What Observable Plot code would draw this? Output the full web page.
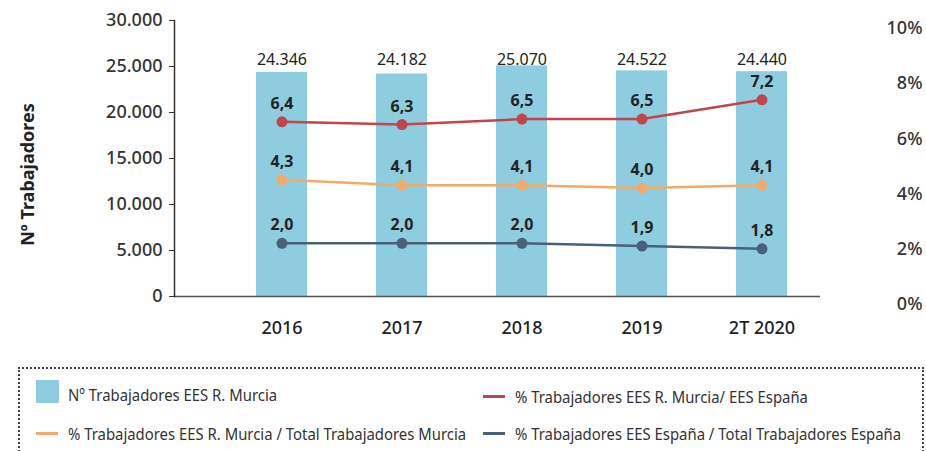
<!DOCTYPE html>
<html>
<head>
<meta charset="utf-8">
<script src="https://cdn.jsdelivr.net/npm/d3@7"></script>
<script src="https://cdn.jsdelivr.net/npm/@observablehq/plot@0.6"></script>
<style>
  html, body { margin: 0; padding: 0; background: #fff; }
  #wrap { position: relative; width: 926px; height: 451px; overflow: hidden; font-family: "Noto Sans", sans-serif; }
  #wrap svg { display: block; }
  .legend { position: absolute; left: 18px; top: 367px; width: 906px; height: 120px; border: 2px dotted #444; box-sizing: border-box; }
  .item { position: absolute; height: 22px; display: flex; align-items: center; }
  .item span.t { display: inline-block; font-family: "Noto Sans", sans-serif; font-size: 17px; color: #333; white-space: nowrap; transform: scaleX(0.875); transform-origin: left center; }
  .sw-sq { width: 23px; height: 23px; margin-right: 9px; flex: none; }
  .sw-ln { width: 22px; height: 3px; margin-right: 10px; flex: none; }
</style>
</head>
<body>
<div id="wrap"></div>
<script>
// ---- data ----
const categories = ["2016", "2017", "2018", "2019", "2T 2020"];
const trabajadores = [24346, 24182, 25070, 24522, 24440];
const pctMurciaEspana = [6.4, 6.3, 6.5, 6.5, 7.2];
const pctMurciaTotal = [4.3, 4.1, 4.1, 4.0, 4.1];
const pctEspanaTotal = [2.0, 2.0, 2.0, 1.9, 1.8];
const leftTicks = [0, 5000, 10000, 15000, 20000, 25000, 30000];
const rightTicks = [0, 2, 4, 6, 8, 10];
const seriesNames = [
  "Nº Trabajadores EES R. Murcia",
  "% Trabajadores EES R. Murcia/ EES España",
  "% Trabajadores EES R. Murcia / Total Trabajadores Murcia",
  "% Trabajadores EES España / Total Trabajadores España"
];
const colors = {bar: "#8ecde0", red: "#c0464c", orange: "#f0aa6b", navy: "#4a607a"};

// ---- derived tables ----
const PCT = 30000 / 10; // right axis 0–10% maps onto left 0–30.000
const es = d3.formatLocale({decimal: ",", thousands: ".", grouping: [3], currency: ["", "€"]});
const fmtInt = es.format(",");
const fmtPct = d => d.toFixed(1).replace(".", ",");

const bars = categories.map((c, i) => ({cat: c, value: trabajadores[i]}));
const lines = [
  {key: "red", values: pctMurciaEspana},
  {key: "orange", values: pctMurciaTotal},
  {key: "navy", values: pctEspanaTotal}
].map(s => ({key: s.key, rows: categories.map((c, i) => ({cat: c, v: s.values[i]}))}));

const lineMarks = lines.flatMap(s => [
  Plot.line(s.rows, {x: "cat", y: d => d.v * PCT, dy: 2, stroke: colors[s.key], strokeWidth: 2.5}),
  Plot.dot(s.rows, {x: "cat", y: d => d.v * PCT, dy: 2, r: 5.5, fill: colors[s.key], stroke: null}),
  Plot.text(s.rows, {x: "cat", y: d => d.v * PCT, text: d => fmtPct(d.v), dy: -16, fontSize: 16, fontWeight: "bold", fill: "#222"})
]);

const chart = Plot.plot({
  width: 926,
  height: 350,
  marginLeft: 174,
  marginRight: 106,
  marginTop: 20,
  marginBottom: 54,
  style: {fontFamily: "'Noto Sans', sans-serif", background: "#fff", color: "#333"},
  x: {type: "band", domain: categories, range: [221, 821], paddingInner: 0.575, paddingOuter: 0.2875},
  y: {domain: [0, 30000]},
  marks: [
    Plot.barY(bars, {x: "cat", y: "value", fill: colors.bar}),
    Plot.text(bars, {x: "cat", text: d => fmtInt(d.value), frameAnchor: "top", dy: 33, fontSize: 16, fill: "#222"}),
    Plot.ruleY([0], {stroke: "#555", strokeWidth: 1.5}),
    Plot.frame({anchor: "left", stroke: "#333", strokeWidth: 1.5}),
    Plot.axisY(leftTicks, {anchor: "left", tickSize: 5, tickPadding: 7, tickFormat: fmtInt, fontSize: 18, fontWeight: 500, fill: "#333", label: null}),
    Plot.text(rightTicks, {y: d => d * PCT, text: d => d + "%", frameAnchor: "right", textAnchor: "end", dx: 102, dy: 8, fontSize: 18, fontWeight: 500, fill: "#333"}),
    Plot.axisX({tickSize: 0, tickPadding: 25, fontSize: 18, fontWeight: 500, fill: "#222", label: null}),
    Plot.text(["Nº Trabajadores"], {frameAnchor: "left", textAnchor: "middle", rotate: -90, dx: -146, dy: 16, fontSize: 18, fontWeight: "bold", fill: "#222"}),
    ...lineMarks
  ]
});

const wrap = document.getElementById("wrap");
wrap.appendChild(chart);

// ---- legend ----
const legend = document.createElement("div");
legend.className = "legend";
const items = [
  {name: seriesNames[0], sw: "sq", color: colors.bar, left: 16, top: 10},
  {name: seriesNames[1], sw: "ln", color: colors.red, left: 463, top: 16},
  {name: seriesNames[2], sw: "ln", color: colors.orange, left: 16, top: 53},
  {name: seriesNames[3], sw: "ln", color: colors.navy, left: 463, top: 53}
];
items.forEach(it => {
  const d = document.createElement("div");
  d.className = "item";
  d.style.left = it.left + "px";
  d.style.top = it.top + "px";
  if (it.sw === "sq") d.style.height = "25px";
  const s = document.createElement("span");
  s.className = it.sw === "sq" ? "sw-sq" : "sw-ln";
  s.style.background = it.color;
  const t = document.createElement("span");
  t.className = "t";
  t.textContent = it.name;
  if (it.sw === "sq") t.style.marginTop = "6px";
  d.appendChild(s);
  d.appendChild(t);
  legend.appendChild(d);
});
wrap.appendChild(legend);
</script>
</body>
</html>
